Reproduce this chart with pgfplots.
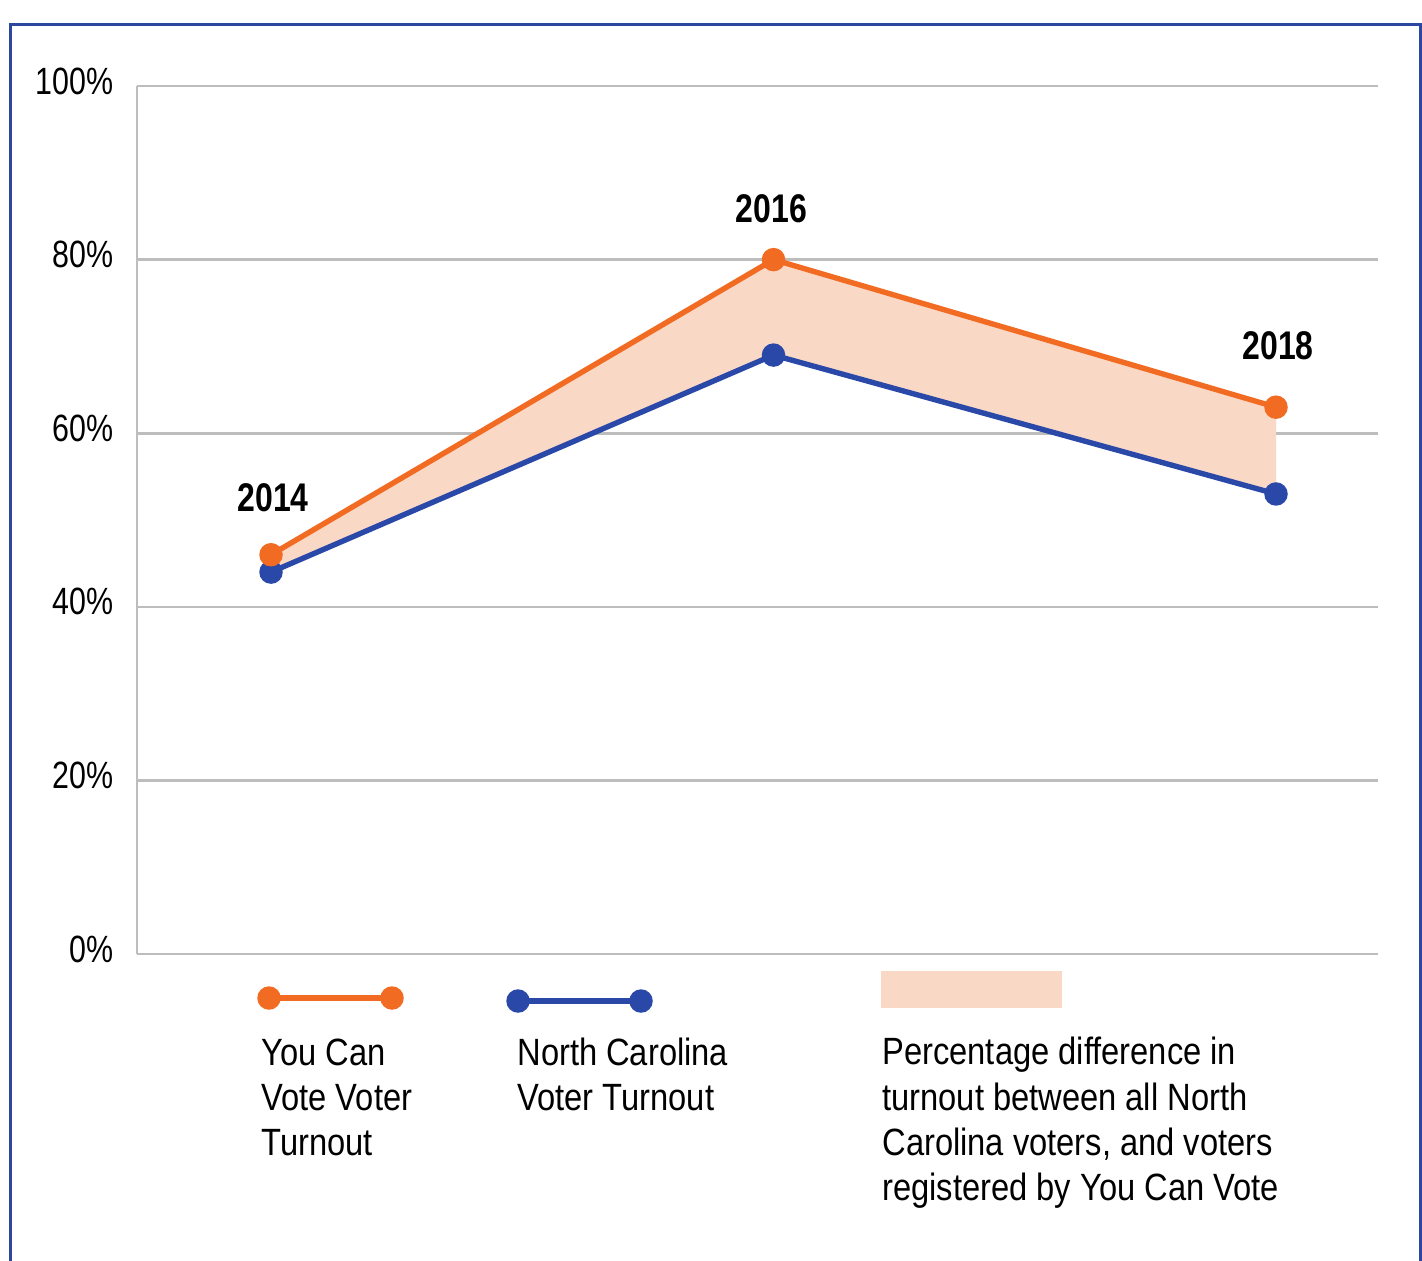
\documentclass[border=0pt]{standalone}
\usepackage{fontspec}
\setmainfont{Liberation Sans}[FakeStretch=0.8]
\newfontfamily\legfont{Liberation Sans}[FakeStretch=0.86]
\usepackage{pgfplots}
\pgfplotsset{compat=1.18}

\definecolor{ycvorange}{HTML}{F26B22}
\definecolor{ncblue}{HTML}{2A48A8}
\definecolor{gapfill}{HTML}{FAD8C6}
\definecolor{gridgray}{HTML}{BDBDBD}
\definecolor{framblue}{HTML}{2C47A0}

\newcommand{\txt}{\fontsize{19}{22}\selectfont}
\newcommand{\leg}{\legfont\fontsize{19}{22}\selectfont}
\newcommand{\yr}{\fontsize{20}{22}\selectfont\bfseries}

\begin{document}
\begin{tikzpicture}
  % page = 1422 x 1260 px, 1 px = 0.5pt
  \path[use as bounding box] (0pt,0pt) rectangle (711pt,-630pt);
  \draw[framblue, line width=1.5pt] (5.25pt,-660pt) -- (5.25pt,-12.25pt) -- (710pt,-12.25pt) -- (710pt,-660pt);

  \begin{axis}[
    at={(68.5pt,-477pt)}, anchor=south west,
    width=620.5pt, height=434pt, scale only axis,
    xmin=-0.2667, xmax=2.203,
    ymin=0, ymax=100,
    xtick=\empty,
    ytick={0,20,...,100},
    yticklabel={\pgfmathprintnumber{\tick}\%},
    /pgf/number format/assume math mode=true,
    yticklabel style={font=\txt, anchor=east, inner sep=0pt, xshift=-11.5pt, yshift=2.5pt},
    axis x line*=bottom, axis y line*=left,
    axis line style={gridgray, line width=1.3pt, -},
    major tick style={draw=none},
    ymajorgrids, grid style={gridgray, line width=1.3pt},
    clip=false,
  ]
    \addplot[fill=gapfill, draw=none] coordinates {
      (0,46) (1,80) (2,63) (2,53) (1,69) (0,44)
    } -- cycle;

    \addplot[ncblue, line width=2.7pt, mark=*, mark size=4.5pt, mark options={solid}] coordinates {
      (0,44) (1,69) (2,53)
    };
    \addplot[ycvorange, line width=2.7pt, mark=*, mark size=4.5pt, mark options={solid}] coordinates {
      (0,46) (1,80) (2,63)
    };

    \node[anchor=base, font=\yr, inner sep=0pt] at ([xshift=1pt, yshift=21.5pt]axis cs:0,46) {2014};
    \node[anchor=base, font=\yr, inner sep=0pt] at ([xshift=-1pt, yshift=18.5pt]axis cs:1,80) {2016};
    \node[anchor=base, font=\yr, inner sep=0pt] at ([xshift=1pt, yshift=24pt]axis cs:2,63) {2018};
  \end{axis}

  % legend, drawn in a hidden axis in pixel units
  \begin{axis}[
    at={(0pt,-630pt)}, anchor=south west,
    width=711pt, height=630pt, scale only axis,
    xmin=0, xmax=1422, ymin=0, ymax=1260, y dir=reverse,
    hide axis, clip=false,
  ]
    \addplot[ycvorange, line width=2.7pt, mark=*, mark size=4.5pt] coordinates {(269,998) (392,998)};
    \addplot[ncblue, line width=2.7pt, mark=*, mark size=4.5pt] coordinates {(518,1001) (641,1001)};
    \addplot[fill=gapfill, draw=none] coordinates {(881,971) (1062,971) (1062,1008) (881,1008)} -- cycle;

    \node[anchor=base west, inner sep=0pt, font=\leg] at (axis cs:261,1065) {You Can};
    \node[anchor=base west, inner sep=0pt, font=\leg] at (axis cs:261,1110) {Vote Voter};
    \node[anchor=base west, inner sep=0pt, font=\leg] at (axis cs:261,1155) {Turnout};
    \node[anchor=base west, inner sep=0pt, font=\leg] at (axis cs:517,1065) {North Carolina};
    \node[anchor=base west, inner sep=0pt, font=\leg] at (axis cs:517,1110) {Voter Turnout};
    \node[anchor=base west, inner sep=0pt, font=\leg] at (axis cs:882,1064) {Percentage difference in};
    \node[anchor=base west, inner sep=0pt, font=\leg] at (axis cs:882,1110) {turnout between all North};
    \node[anchor=base west, inner sep=0pt, font=\leg] at (axis cs:882,1155) {Carolina voters, and voters};
    \node[anchor=base west, inner sep=0pt, font=\leg] at (axis cs:882,1200) {registered by You Can Vote};
  \end{axis}
\end{tikzpicture}
\end{document}
